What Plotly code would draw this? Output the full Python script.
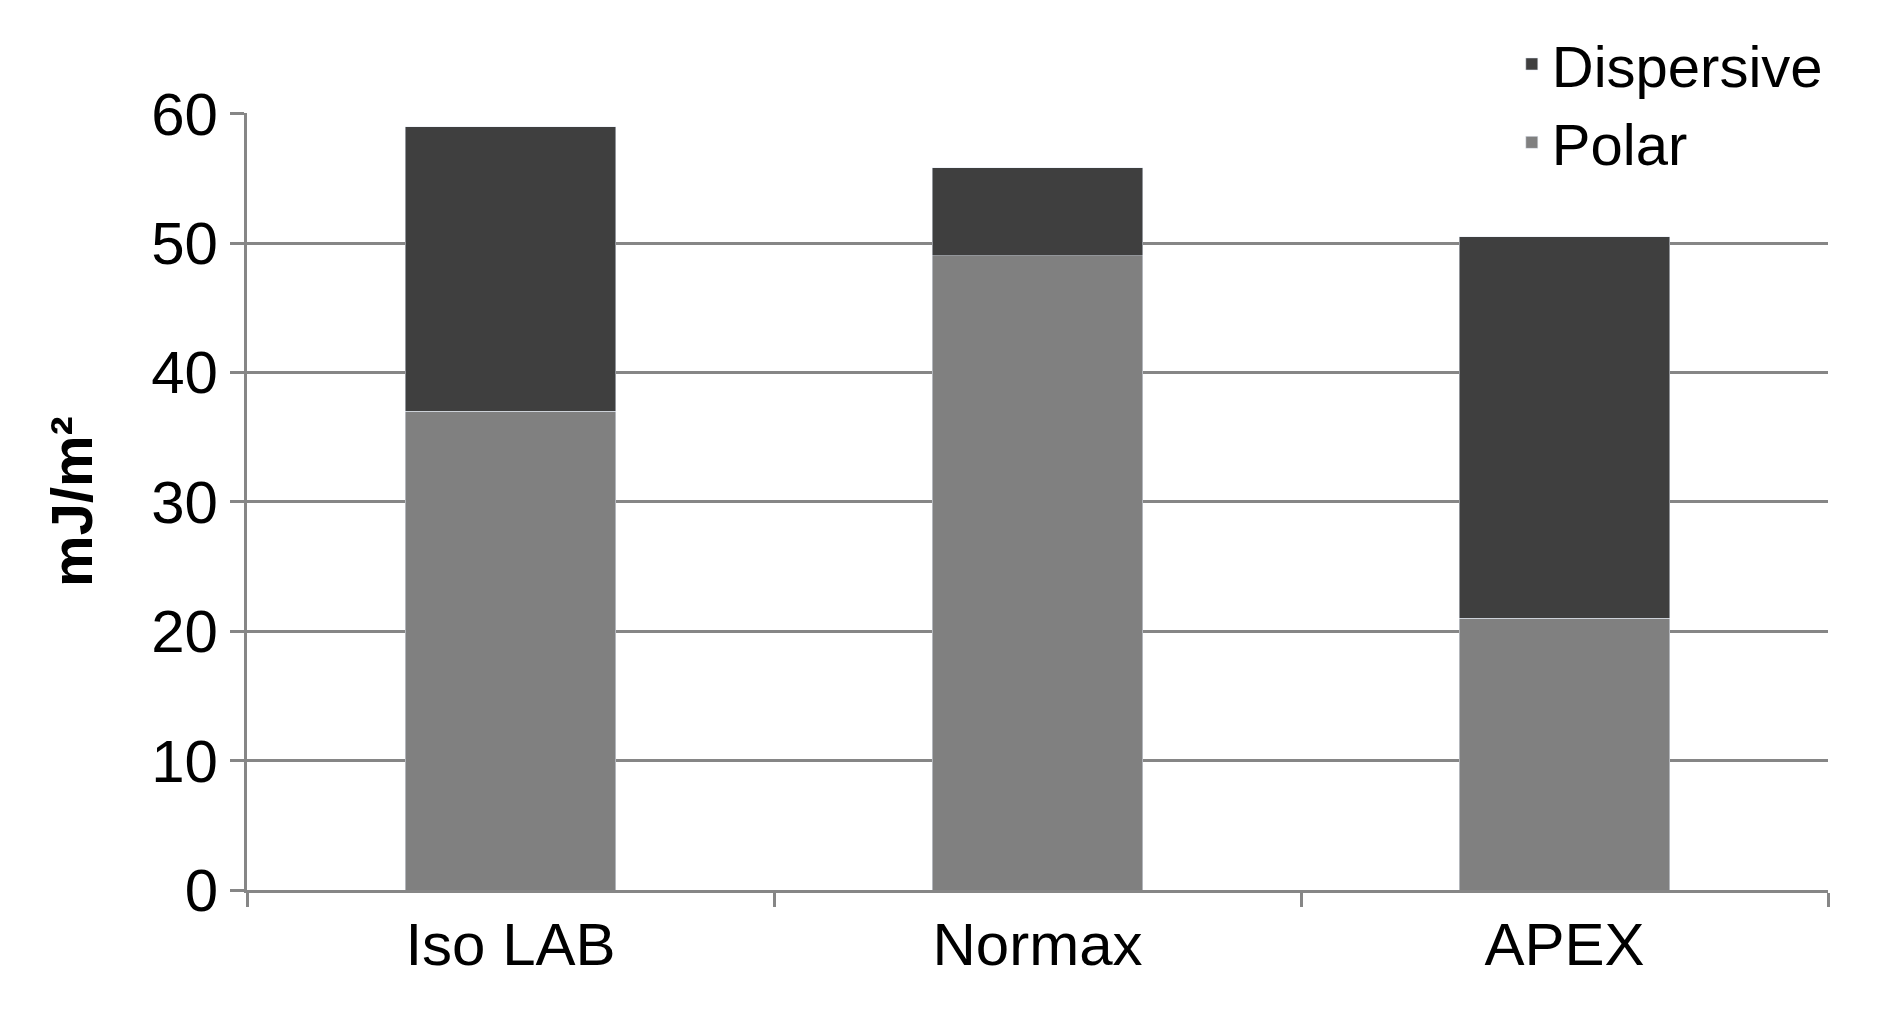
import plotly.graph_objects as go

categories = ["Iso LAB", "Normax", "APEX"]
polar = [37, 49, 21]
dispersive = [22, 6.8, 29.5]

fig = go.Figure()
fig.add_bar(x=categories, y=polar, name="Polar", marker_color="#808080", width=0.4)
fig.add_bar(x=categories, y=dispersive, name="Dispersive", marker_color="#3f3f3f", width=0.4)
font = "Liberation Sans, Arial, sans-serif"
fig.update_layout(
    barmode="stack", width=1904, height=1031,
    margin=dict(l=239, r=84, t=78, b=149),
    plot_bgcolor="white", paper_bgcolor="white",
    font=dict(family=font, size=60, color="black"),
    legend=dict(x=0.8, y=1.12, xanchor="left", yanchor="top", traceorder="reversed",
                bgcolor="white", font=dict(size=58), itemwidth=30),
    showlegend=True,
)
fig.update_xaxes(showline=True, linecolor="#868686", linewidth=3, ticks="outside",
                 tickson="boundaries", ticklen=14, tickcolor="#868686", tickwidth=3)
fig.update_yaxes(range=[0, 60.05], tickvals=[0, 10, 20, 30, 40, 50, 60], showgrid=True,
                 gridcolor="#868686", gridwidth=3,
                 showline=True, linecolor="#868686", linewidth=3, ticks="outside",
                 ticklen=14, tickcolor="#868686", tickwidth=3, zeroline=False,
                 title=dict(text="<b>mJ/m²</b>", font=dict(size=58), standoff=40))
fig.write_html("out.html")
